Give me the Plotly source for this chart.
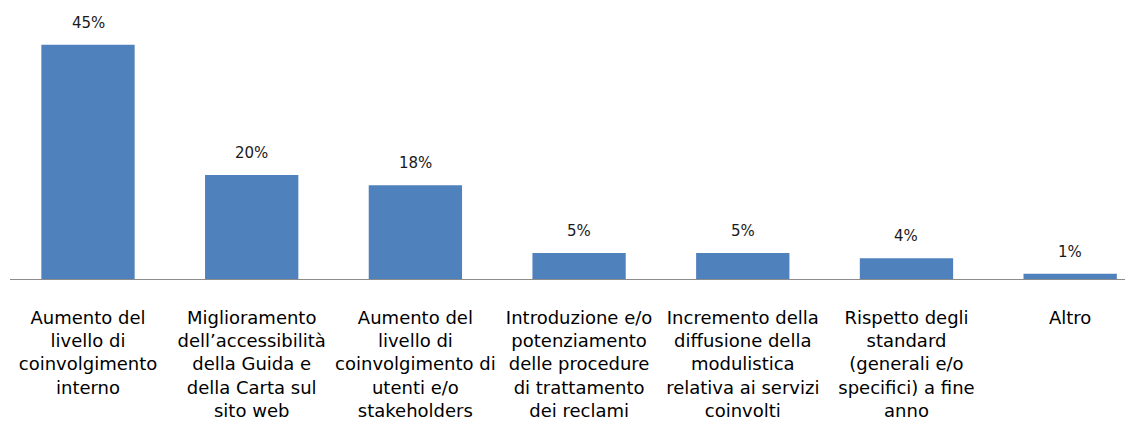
import plotly.graph_objects as go

# Categories (multi-line labels) and percentages
categories = [
    "Aumento del<br>livello di<br>coinvolgimento<br>interno",
    "Miglioramento<br>dell’accessibilità<br>della Guida e<br>della Carta sul<br>sito web",
    "Aumento del<br>livello di<br>coinvolgimento di<br>utenti e/o<br>stakeholders",
    "Introduzione e/o<br>potenziamento<br>delle procedure<br>di trattamento<br>dei reclami",
    "Incremento della<br>diffusione della<br>modulistica<br>relativa ai servizi<br>coinvolti",
    "Rispetto degli<br>standard<br>(generali e/o<br>specifici) a fine<br>anno",
    "Altro",
]
values = [45, 20, 18, 5, 5, 4, 1]

BAR_COLOR = "#4F81BD"
FONT = "DejaVu Sans"

fig = go.Figure(
    go.Bar(
        x=list(range(len(categories))),
        y=values,
        width=0.57,
        marker=dict(color=BAR_COLOR, line=dict(width=0)),
        hoverinfo="skip",
    )
)

# Value labels above each bar
for i, v in enumerate(values):
    fig.add_annotation(
        x=i, y=v, text=f"{v}%", showarrow=False,
        yanchor="middle", yshift=22,
        font=dict(family=FONT, size=15, color="#1a1a1a"),
    )

fig.update_layout(
    width=1125, height=423,
    margin=dict(l=10, r=0, t=0, b=144),
    plot_bgcolor="white", paper_bgcolor="white",
    showlegend=False,
    xaxis=dict(
        range=[-0.4765, 6.335],
        tickmode="array",
        tickvals=list(range(len(categories))),
        ticktext=categories,
        tickangle=0,
        ticks="",
        ticklabelstandoff=22,
        showline=True, linecolor="#8c8c8c", linewidth=1,
        showgrid=False, zeroline=False,
        tickfont=dict(family=FONT, size=18, color="#000000"),
    ),
    yaxis=dict(
        range=[0, 53.6],
        visible=False,
        showgrid=False, zeroline=False,
    ),
)

fig.write_html("out.html")
